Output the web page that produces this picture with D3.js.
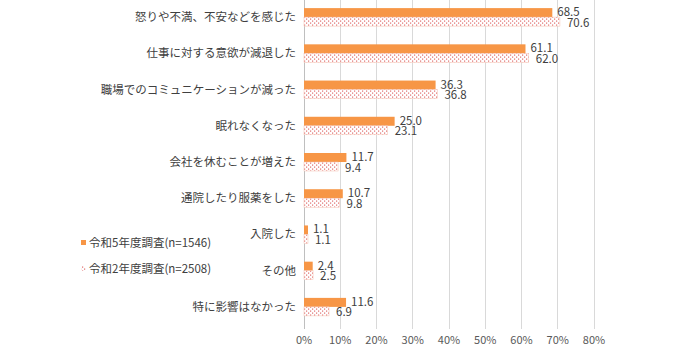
<!DOCTYPE html>
<html><head><meta charset="utf-8">
<script src="https://cdn.jsdelivr.net/npm/d3@7"></script>
<style>body{margin:0;background:#fff;}svg{display:block;font-family:"Noto Sans CJK JP","Noto Sans",sans-serif;}</style>
</head><body><svg id="c" width="680" height="356"></svg>
<script>
const categories = ["怒りや不満、不安などを感じた","仕事に対する意欲が減退した","職場でのコミュニケーションが減った","眠れなくなった","会社を休むことが増えた","通院したり服薬をした","入院した","その他","特に影響はなかった"];
const seriesNames = ["令和5年度調査(n=1546)","令和2年度調査(n=2508)"];
const r5 = [68.5,61.1,36.3,25.0,11.7,10.7,1.1,2.4,11.6];
const r2 = [70.6,62.0,36.8,23.1,9.4,9.8,1.1,2.5,6.9];
const xTicks = [0,10,20,30,40,50,60,70,80];

const svg = d3.select("#c");
const defs = svg.append("defs");
const pat = defs.append("pattern").attr("id","dots").attr("patternUnits","userSpaceOnUse")
  .attr("width",4).attr("height",4);
pat.append("rect").attr("width",4).attr("height",4).attr("fill","#fff");
pat.append("rect").attr("x",0).attr("y",0.5).attr("width",1.2).attr("height",1.2).attr("fill","#e06a6a");
pat.append("rect").attr("x",2).attr("y",2.5).attr("width",1.2).attr("height",1.2).attr("fill","#e06a6a");

const x = d3.scaleLinear().domain([0,80]).range([304,594]);
const y = d3.scaleBand().domain(categories).range([-1,325]);

svg.append("g").selectAll("line").data(xTicks).join("line")
  .attr("x1",d=>x(d)).attr("x2",d=>x(d)).attr("y1",0).attr("y2",329)
  .attr("stroke",d=>d===0?"#bfbfbf":"#d9d9d9").attr("stroke-width",1).attr("shape-rendering","crispEdges");

svg.append("g").selectAll("text").data(xTicks).join("text")
  .attr("x",d=>x(d)).attr("y",344).attr("text-anchor","middle")
  .attr("font-size",11).attr("fill","#595959").text(d=>d+"%");

const bh = 9;
const g = svg.append("g");
categories.forEach((c,i)=>{
  const cy = y(c)+y.bandwidth()/2;
  g.append("rect").attr("x",x(0)).attr("y",cy-bh).attr("width",x(r5[i])-x(0)).attr("height",bh).attr("fill","#f79646");
  g.append("rect").attr("x",x(0)).attr("y",cy).attr("width",x(r2[i])-x(0)).attr("height",bh).attr("fill","url(#dots)")
    .attr("stroke","#f4c0b0").attr("stroke-width",0.5);
  g.append("text").attr("x",x(r5[i])+5).attr("y",cy-1).attr("font-size",11.5).attr("fill","#404040").text(r5[i].toFixed(1));
  g.append("text").attr("x",x(r2[i])+7).attr("y",cy+9.5).attr("font-size",11.5).attr("fill","#404040").text(r2[i].toFixed(1));
  g.append("text").attr("x",296).attr("y",cy+4).attr("text-anchor","end").attr("font-size",11.5).attr("fill","#404040").text(c);
});

const lg = svg.append("g");
lg.append("rect").attr("x",81).attr("y",240).attr("width",5).attr("height",5).attr("fill","#f79646");
lg.append("text").attr("x",89).attr("y",247).attr("font-size",11.5).attr("fill","#404040").text(seriesNames[0]);
lg.append("rect").attr("x",81).attr("y",266).attr("width",5).attr("height",5).attr("fill","url(#dots)");
lg.append("text").attr("x",89).attr("y",273).attr("font-size",11.5).attr("fill","#404040").text(seriesNames[1]);
</script></body></html>
